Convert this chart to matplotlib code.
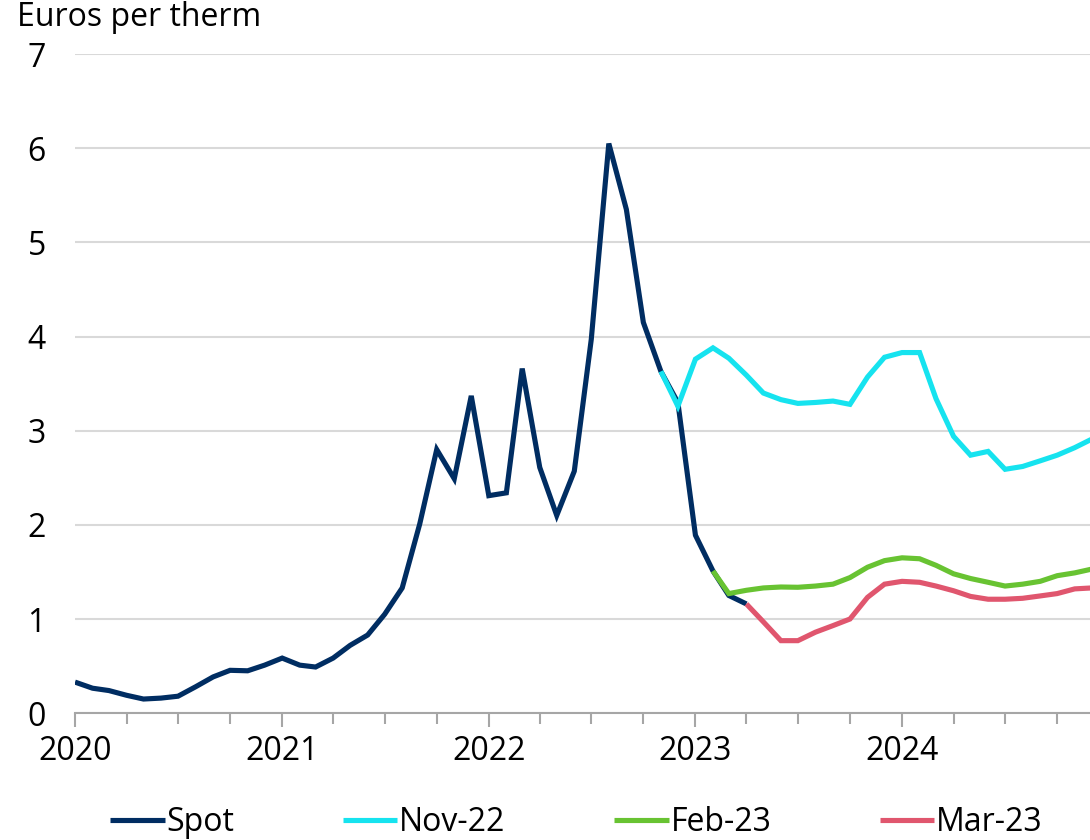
import matplotlib
matplotlib.use("Agg")
import matplotlib.pyplot as plt
import matplotlib.dates as mdates
import pandas as pd

plt.rcParams["font.family"] = ["Open Sans", "DejaVu Sans"]

# Monthly gas prices, euros per therm
spot = [0.33, 0.265, 0.24, 0.19, 0.15, 0.16, 0.18, 0.28, 0.385, 0.455, 0.45, 0.51,
        0.585, 0.51, 0.49, 0.585, 0.72, 0.83, 1.05, 1.33, 2.01, 2.80, 2.49, 3.37,
        2.31, 2.34, 3.66, 2.61, 2.10, 2.57, 3.97, 6.05, 5.35, 4.15, 3.63, 3.30,
        1.89, 1.51, 1.25, 1.16]
spot_start = "2020-01"

# Futures curves, labelled by the date they were taken
nov22 = [3.63, 3.26, 3.76, 3.88, 3.77, 3.59, 3.40, 3.33, 3.29, 3.30, 3.315, 3.28,
         3.57, 3.78, 3.83, 3.83, 3.34, 2.94, 2.74, 2.78, 2.59, 2.62, 2.68, 2.74,
         2.82, 2.91]
nov22_start = "2022-11"

feb23 = [1.51, 1.27, 1.305, 1.33, 1.34, 1.337, 1.35, 1.37, 1.44, 1.55, 1.62,
         1.65, 1.64, 1.57, 1.48, 1.43, 1.39, 1.35, 1.37, 1.40, 1.46, 1.49, 1.53]
feb23_start = "2023-02"

mar23 = [1.16, 0.97, 0.77, 0.77, 0.86, 0.93, 1.00, 1.23, 1.37, 1.40, 1.39, 1.35,
         1.30, 1.24, 1.21, 1.21, 1.22, 1.245, 1.27, 1.32, 1.33]
mar23_start = "2023-04"

series = [
    ("Spot", spot, spot_start, "#002D62"),
    ("Nov-22", nov22, nov22_start, "#16E3EF"),
    ("Feb-23", feb23, feb23_start, "#68C332"),
    ("Mar-23", mar23, mar23_start, "#E0566E"),
]

FS = 23

fig = plt.figure(figsize=(10.9, 8.4), dpi=100)
ax = fig.add_axes([0.0688, 0.151, 0.9312, 0.7846])

for name, vals, start, color in series:
    dates = pd.date_range(start, periods=len(vals), freq="MS")
    ax.plot(dates, vals, color=color, linewidth=3.7, label=name,
            solid_joinstyle="miter", solid_capstyle="butt")

ax.set_ylim(0, 7)
ax.set_yticks(range(0, 8))
ax.set_xlim(pd.Timestamp("2020-01-01"), pd.Timestamp("2024-11-28"))

ax.xaxis.set_major_locator(mdates.YearLocator())
ax.xaxis.set_major_formatter(mdates.DateFormatter("%Y"))
ax.xaxis.set_minor_locator(mdates.MonthLocator(bymonth=[4, 7, 10]))

ax.grid(axis="y", color="#d9d9d9", linewidth=1.5)
ax.set_axisbelow(True)
for side in ["top", "right", "left"]:
    ax.spines[side].set_visible(False)
ax.spines["bottom"].set_color("#a6a6a6")
ax.spines["bottom"].set_linewidth(1.5)

ax.tick_params(axis="y", length=0, pad=21, labelsize=FS)
ax.tick_params(axis="x", which="major", length=10, width=1.5, color="#a6a6a6",
               pad=6, labelsize=FS)
ax.tick_params(axis="x", which="minor", length=8, width=1.5, color="#a6a6a6")
for lbl in ax.get_yticklabels():
    lbl.set_horizontalalignment("right")

fig.text(0.016, 0.979, "Euros per therm", fontsize=FS, ha="left", va="center")

fig.legend(loc="center", bbox_to_anchor=(0.529, 0.021), ncol=4, frameon=False,
           fontsize=FS, handlelength=1.7, handletextpad=0.06, columnspacing=3.4)

fig.savefig("out.png", dpi=100)
